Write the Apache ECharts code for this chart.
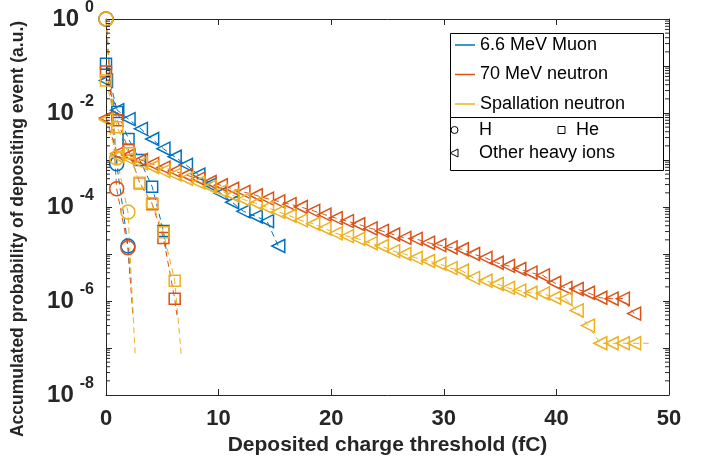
<!DOCTYPE html>
<html>
<head>
<meta charset="utf-8">
<script src="https://cdn.jsdelivr.net/npm/echarts@6/dist/echarts.min.js"></script>
<style>html,body{margin:0;padding:0;background:#fff}#c{width:701px;height:468px}</style>
</head>
<body>
<div id="c"></div>
<script>
// ---------------- data ----------------
const heavyX = [0, 1.0, 2.0, 3.1, 4.1, 5.1, 6.1, 7.1, 8.2, 9.2, 10.2, 11.2, 12.2, 13.3, 14.3, 15.3, 16.3, 17.3, 18.4, 19.4, 20.4, 21.4, 22.4, 23.5, 24.5, 25.5, 26.5, 27.5, 28.6, 29.6, 30.6, 31.6, 32.6, 33.7, 34.7, 35.7, 36.7, 37.7, 38.8, 39.8, 40.8, 41.8, 42.8, 43.9, 44.9, 45.9, 46.9];
const muonHeavy = [4.9e-2, 1.15e-2, 7.4e-3, 4.6e-3, 2.8e-3, 1.74e-3, 1.17e-3, 7.9e-4, 4.9e-4, 3.0e-4, 1.95e-4, 1.26e-4, 8.1e-5, 6.3e-5, 5.0e-5, 1.48e-5];
const n70Heavy = [7.8e-3, 1.38e-3, 1.26e-3, 1.0e-3, 8.3e-4, 6.9e-4, 5.8e-4, 4.8e-4, 4.0e-4, 3.4e-4, 2.9e-4, 2.45e-4, 2.1e-4, 1.78e-4, 1.51e-4, 1.32e-4, 1.15e-4, 1.0e-4, 8.3e-5, 6.9e-5, 5.8e-5, 5.0e-5, 4.3e-5, 3.5e-5, 3.1e-5, 2.6e-5, 2.2e-5, 2.1e-5, 1.74e-5, 1.55e-5, 1.38e-5, 1.26e-5, 1.0e-5, 8.3e-6, 6.5e-6, 5.6e-6, 4.8e-6, 4.0e-6, 3.5e-6, 2.45e-6, 1.9e-6, 1.8e-6, 1.5e-6, 1.17e-6, 1.12e-6, 1.12e-6, 5.4e-7];
const spallHeavy = [7.2e-3, 1.2e-3, 1.07e-3, 8.5e-4, 7.1e-4, 5.8e-4, 4.9e-4, 4.0e-4, 3.3e-4, 2.7e-4, 2.2e-4, 1.78e-4, 1.45e-4, 1.2e-4, 9.8e-5, 7.9e-5, 6.5e-5, 5.2e-5, 4.4e-5, 3.5e-5, 2.75e-5, 2.4e-5, 2.1e-5, 1.7e-5, 1.48e-5, 1.15e-5, 1.0e-5, 8.3e-6, 7.1e-6, 6.2e-6, 5.0e-6, 4.4e-6, 3.1e-6, 2.7e-6, 2.3e-6, 1.9e-6, 1.66e-6, 1.5e-6, 1.45e-6, 1.17e-6, 1.12e-6, 6.3e-7, 3.0e-7, 1.26e-7, 1.26e-7, 1.26e-7, 1.26e-7];
const spallHeavyTail = [48.2, 1.26e-7];

const hX = [0, 0.95, 1.95];
const muonH = [1, 8.3e-4, 1.48e-5];
const n70H = [1, 2.45e-4, 1.35e-5];
const spallH = [1, 1.1e-3, 7.8e-5];
const muonHTail = [2.15, 3.0e-6];
const n70HTail = [2.4, 4.5e-7];
const spallHTail = [2.6, 6.5e-8];

const heX = [0, 1.0, 2.0, 3.0, 4.1, 5.1, 6.1];
const muonHe = [0.112, 1.05e-2, 2.8e-3, 1.0e-3, 2.7e-4, 3.1e-5];
const n70He = [7.6e-2, 7.0e-3, 1.66e-3, 3.2e-4, 1.15e-4, 2.2e-5, 1.12e-6];
const spallHe = [4.9e-2, 5.0e-3, 1.4e-3, 3.3e-4, 1.2e-4, 2.9e-5, 2.7e-6];
const muonHeTail = [5.4, 1.0e-5];
const n70HeTail = [6.3, 5.0e-7];
const spallHeTail = [6.7, 6.5e-8];

const sourceNames = ['6.6 MeV Muon', '70 MeV neutron', 'Spallation neutron'];
const particleNames = ['H', 'He', 'Other heavy ions'];
const xTicks = [0, 10, 20, 30, 40, 50];

// ---------------- styling ----------------
const FONT = '"Liberation Sans", Arial, Helvetica, sans-serif';
const AX = '#262626';
const COLORS = ['#0072BD', '#D95319', '#EDB120'];
const TRI = 'path://M10,0L0,5L10,10Z';
const SYM = { H: ['circle', 14], He: ['rect', 11], Heavy: [TRI, 13] };

function mk(name, color, xs, ys, kind, tail) {
  const data = ys.map((v, i) => [xs[i], v]);
  if (tail) data.push({ value: tail, symbol: 'none' });
  return {
    name: name, type: 'line', xAxisIndex: 0, yAxisIndex: 0,
    data: data, symbol: SYM[kind][0], symbolSize: SYM[kind][1],
    symbolKeepAspect: true, clip: false, silent: true,
    lineStyle: { color: color, width: 1, type: [6, 4] },
    itemStyle: { color: 'rgba(0,0,0,0)', borderColor: color, borderWidth: 1.5 },
    emphasis: { disabled: true }, z: 2
  };
}

const series = [
  mk('mH', COLORS[0], hX, muonH, 'H', muonHTail),
  mk('mHe', COLORS[0], heX, muonHe, 'He', muonHeTail),
  mk('mHv', COLORS[0], heavyX, muonHeavy, 'Heavy', null),
  mk('nH', COLORS[1], hX, n70H, 'H', n70HTail),
  mk('nHe', COLORS[1], heX, n70He, 'He', n70HeTail),
  mk('nHv', COLORS[1], heavyX, n70Heavy, 'Heavy', null),
  mk('sH', COLORS[2], hX, spallH, 'H', spallHTail),
  mk('sHe', COLORS[2], heX, spallHe, 'He', spallHeTail),
  mk('sHv', COLORS[2], heavyX, spallHeavy, 'Heavy', spallHeavyTail)
];
// legend-only series
sourceNames.forEach((n, i) => series.push({ name: n, type: 'line', data: [], color: COLORS[i], symbol: 'none', lineStyle: { color: COLORS[i], width: 1.5 } }));
particleNames.forEach(n => series.push({ name: n, type: 'line', data: [], color: AX, symbol: 'none' }));

// MATLAB-style log minor ticks (2..9 within each decade)
const minor = [];
for (let e = -8; e < 0; e++) {
  for (let k = 2; k <= 9; k++) {
    const v = k * Math.pow(10, e);
    minor.push([0, v]); minor.push([50, v]);
  }
}
series.push({
  type: 'custom', xAxisIndex: 0, yAxisIndex: 0, silent: true, clip: false, z: 5,
  data: minor,
  renderItem: function (params, api) {
    const p = api.coord([api.value(0), api.value(1)]);
    const d = api.value(0) === 0 ? 1 : -1;
    return { type: 'line', shape: { x1: p[0], y1: p[1], x2: p[0] + d * 4, y2: p[1] }, style: { stroke: AX, lineWidth: 1 } };
  }
});

const common = {
  axisLine: { show: true, onZero: false, lineStyle: { color: AX, width: 1 } },
  axisTick: { show: true, inside: true, length: 6, lineStyle: { color: AX, width: 1 } },
  splitLine: { show: false }
};
const legText = { fontFamily: FONT, fontSize: 18, lineHeight: 18, color: '#000' };
const hollow = { color: 'rgba(0,0,0,0)', borderColor: '#000', borderWidth: 1 };

const option = {
  animation: false,
  backgroundColor: '#fff',
  grid: { left: 106, right: 32, top: 16, bottom: 73 },
  xAxis: [
    Object.assign({}, common, {
      type: 'value', min: xTicks[0], max: xTicks[xTicks.length - 1], interval: 10, position: 'bottom',
      axisLabel: { fontFamily: FONT, fontWeight: 'bold', fontSize: 22, color: AX, margin: 13 },
      name: 'Deposited charge threshold (fC)', nameLocation: 'middle', nameGap: 37,
      nameTextStyle: { fontFamily: FONT, fontWeight: 'bold', fontSize: 21, color: AX }
    }),
    Object.assign({}, common, {
      type: 'value', min: xTicks[0], max: xTicks[xTicks.length - 1], interval: 10, position: 'top',
      axisLabel: { show: false }
    })
  ],
  yAxis: [
    Object.assign({}, common, {
      type: 'log', logBase: 10, min: 1e-8, max: 1, position: 'left',
      axisLabel: {
        margin: 12, color: AX,
        formatter: function (v) {
          const e = Math.round(Math.log10(v));
          if (e % 2 !== 0) return '';
          return '{b|10}{s|' + e + '}';
        },
        rich: {
          b: { fontFamily: FONT, fontWeight: 'bold', fontSize: 24, color: AX },
          s: { fontFamily: FONT, fontWeight: 'bold', fontSize: 16, color: AX, padding: [0, 0, 22, 6] }
        }
      },
      name: 'Accumulated probability of depositing event (a.u.)', nameLocation: 'middle', nameGap: 79,
      nameTextStyle: { fontFamily: FONT, fontWeight: 'bold', fontSize: 17.5, color: AX, padding: [0, 44, 0, 0] }
    }),
    Object.assign({}, common, {
      type: 'log', logBase: 10, min: 1e-8, max: 1, position: 'right',
      axisLabel: { show: false }
    })
  ],
  graphic: [
    { type: 'rect', z: 3, shape: { x: 450.5, y: 33.5, width: 213, height: 84 }, style: { fill: '#fff', stroke: '#000', lineWidth: 1 } },
    { type: 'rect', z: 3, shape: { x: 450.5, y: 117.5, width: 213, height: 53 }, style: { fill: '#fff', stroke: '#000', lineWidth: 1 } }
  ],
  legend: [
    {
      data: sourceNames.map(n => ({ name: n, icon: 'rect' })), orient: 'vertical', left: 455, top: 36, padding: 0,
      itemWidth: 20, itemHeight: 1.5, itemGap: 11.5, selectedMode: false, textStyle: legText
    },
    {
      data: [{ name: 'H', icon: 'circle', itemStyle: hollow }],
      left: 450.5, top: 121, padding: 0, itemWidth: 7, itemHeight: 7, selectedMode: false,
      textStyle: Object.assign({}, legText, { padding: [0, 0, 0, 16] })
    },
    {
      data: [{ name: 'He', icon: 'rect', itemStyle: hollow }],
      left: 557.5, top: 121, padding: 0, itemWidth: 7, itemHeight: 7, selectedMode: false,
      textStyle: Object.assign({}, legText, { padding: [0, 0, 0, 6] })
    },
    {
      data: [{ name: 'Other heavy ions', icon: TRI, itemStyle: hollow }],
      left: 449.5, top: 144, padding: 0, itemWidth: 8, itemHeight: 8, selectedMode: false,
      textStyle: Object.assign({}, legText, { padding: [0, 0, 0, 16] })
    }
  ],
  series: series
};

const chart = echarts.init(document.getElementById('c'), null, { renderer: 'canvas' });
chart.setOption(option);
</script>
</body>
</html>
